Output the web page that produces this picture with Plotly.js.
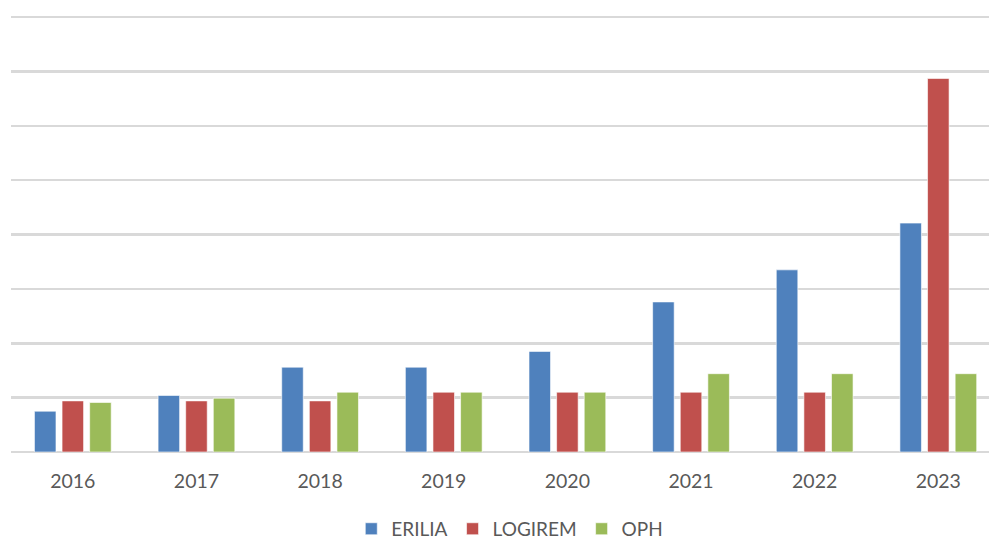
<!DOCTYPE html>
<html>
<head>
<meta charset="utf-8">
<script src="https://cdn.plot.ly/plotly-3.0.1.min.js"></script>
<style>html,body{margin:0;padding:0;background:#fff;}#chart{width:989px;height:541px;}</style>
</head>
<body>
<div id="chart"></div>
<script>
const years = ['2016','2017','2018','2019','2020','2021','2022','2023'];
const erilia = [0.75, 1.04, 1.56, 1.56, 1.85, 2.76, 3.35, 4.21];
const logirem = [0.94, 0.94, 0.94, 1.10, 1.10, 1.10, 1.10, 6.87];
const oph = [0.91, 0.99, 1.10, 1.10, 1.10, 1.44, 1.44, 1.44];

const mk = (name, y, color) => ({
  type: 'bar', name: name, x: years, y: y,
  marker: {color: color, line: {color: 'rgba(255,255,255,0.6)', width: 1}},
  hoverinfo: 'x+y+name'
});

const data = [
  mk('ERILIA', erilia, '#4F81BD'),
  mk('LOGIREM', logirem, '#C0504D'),
  mk('OPH', oph, '#9BBB59')
];

const layout = {
  width: 989, height: 541,
  margin: {l: 11, r: 0, t: 15, b: 89, pad: 0, autoexpand: false},
  paper_bgcolor: '#ffffff', plot_bgcolor: '#ffffff',
  barmode: 'group', bargap: 0.33, bargroupgap: 0.22,
  font: {family: 'Lato, "Open Sans", sans-serif', size: 19, color: '#595959'},
  xaxis: {
    type: 'category', range: [-0.5, 7.41], automargin: false,
    showgrid: false, zeroline: false, showline: false,
    ticks: 'outside', ticklen: 12, tickcolor: 'rgba(0,0,0,0)',
    tickfont: {size: 19.5, color: '#595959'}
  },
  yaxis: {
    range: [0, 8.037], dtick: 1, tick0: 0, automargin: false,
    showgrid: true, gridcolor: '#D9D9D9', gridwidth: 2.5,
    zeroline: true, zerolinecolor: '#D9D9D9', zerolinewidth: 2.5,
    showticklabels: false, ticks: '', showline: false, fixedrange: true
  },
  showlegend: true,
  legend: {
    orientation: 'h', x: 0.51, xanchor: 'center', y: -0.176, yanchor: 'middle',
    font: {size: 19, color: '#595959'}, tracegroupgap: 0, itemwidth: 30
  }
};

Plotly.newPlot('chart', data, layout, {displayModeBar: false, staticPlot: true});
</script>
</body>
</html>
